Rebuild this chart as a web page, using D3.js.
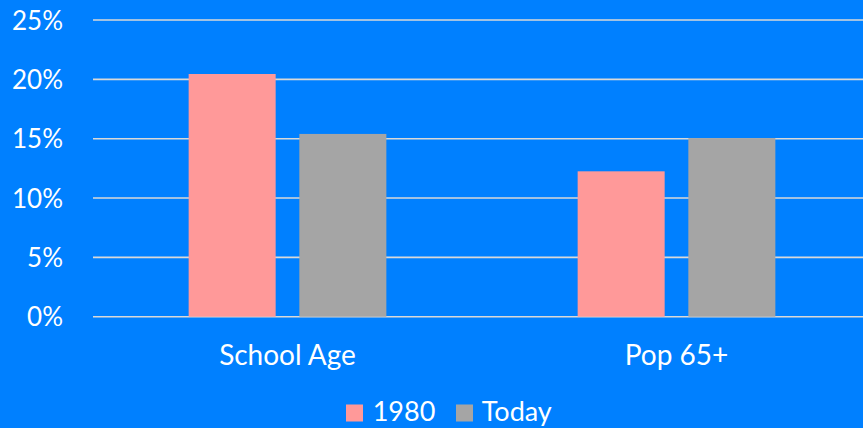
<!DOCTYPE html>
<html>
<head>
<meta charset="utf-8">
<script src="https://cdn.jsdelivr.net/npm/d3@7"></script>
<style>
  html, body { margin: 0; padding: 0; background: #0080FF; }
  svg { display: block; }
  text { font-family: Lato, "Open Sans", sans-serif; fill: #ffffff; }
</style>
</head>
<body>
<svg id="chart" width="863" height="428"></svg>
<script>
const categories = ["School Age", "Pop 65+"];
const seriesNames = ["1980", "Today"];
const values1980 = [20.45, 12.25];
const valuesToday = [15.4, 15.05];
const yTicks = [0, 5, 10, 15, 20, 25];
const seriesColors = ["#FF9999", "#A5A5A5"];

const svg = d3.select("#chart");
const W = 863, H = 428;
svg.append("rect").attr("width", W).attr("height", H).attr("fill", "#0080FF");

const plotLeft = 93, plotRight = 871, plotTop = 20, plotBottom = 316.7;

const y = d3.scaleLinear().domain([0, 25]).range([plotBottom, plotTop]);
const x0 = d3.scaleBand().domain(categories).range([plotLeft, plotRight]).padding(0);
const x1 = d3.scaleBand().domain(seriesNames).range([0, x0.bandwidth()])
  .paddingInner(0.214).paddingOuter(0.864);

// gridlines
const grid = svg.append("g");
grid.selectAll("line").data(yTicks).enter().append("line")
  .attr("x1", plotLeft).attr("x2", W)
  .attr("y1", d => y(d)).attr("y2", d => y(d))
  .attr("stroke", "#D9D9D9").attr("stroke-width", 1.6);

// y axis labels
const yAxis = d3.axisLeft(y).tickValues(yTicks).tickFormat(d => d + "%").tickSize(0).tickPadding(0);
const yg = svg.append("g").attr("transform", "translate(63,0)").call(yAxis);
yg.select(".domain").remove();
yg.selectAll("text").attr("font-size", "26px").attr("fill", "#fff")
  .style("font-family", "Lato, 'Open Sans', sans-serif").attr("dy", "0.35em");

// bars
const data = categories.map((c, i) => ({cat: c, vals: [values1980[i], valuesToday[i]]}));
const groups = svg.append("g").selectAll("g").data(data).enter().append("g")
  .attr("transform", d => `translate(${x0(d.cat)},0)`);
groups.selectAll("rect").data(d => d.vals.map((v, j) => ({s: seriesNames[j], v, j})))
  .enter().append("rect")
  .attr("x", d => x1(d.s))
  .attr("width", x1.bandwidth())
  .attr("y", d => y(d.v))
  .attr("height", d => y(0) - y(d.v))
  .attr("fill", d => seriesColors[d.j]);

// x axis labels
const xAxis = d3.axisBottom(x0).tickSize(0).tickPadding(0);
const xg = svg.append("g").attr("transform", `translate(0,${plotBottom})`).call(xAxis);
xg.select(".domain").remove();
xg.selectAll("text").attr("font-size", "28px").attr("fill", "#fff")
  .style("font-family", "Lato, 'Open Sans', sans-serif")
  .attr("y", 48.5).attr("dy", 0);

// legend
const legend = svg.append("g");
const legendItems = [{name: seriesNames[0], color: seriesColors[0], sx: 346, tx: 372.7},
                     {name: seriesNames[1], color: seriesColors[1], sx: 456, tx: 481.7}];
legendItems.forEach(it => {
  legend.append("rect").attr("x", it.sx).attr("y", 404.5).attr("width", 17).attr("height", 17).attr("fill", it.color);
  legend.append("text").attr("x", it.tx).attr("y", 421).attr("font-size", "27px").text(it.name);
});
</script>
</body>
</html>
